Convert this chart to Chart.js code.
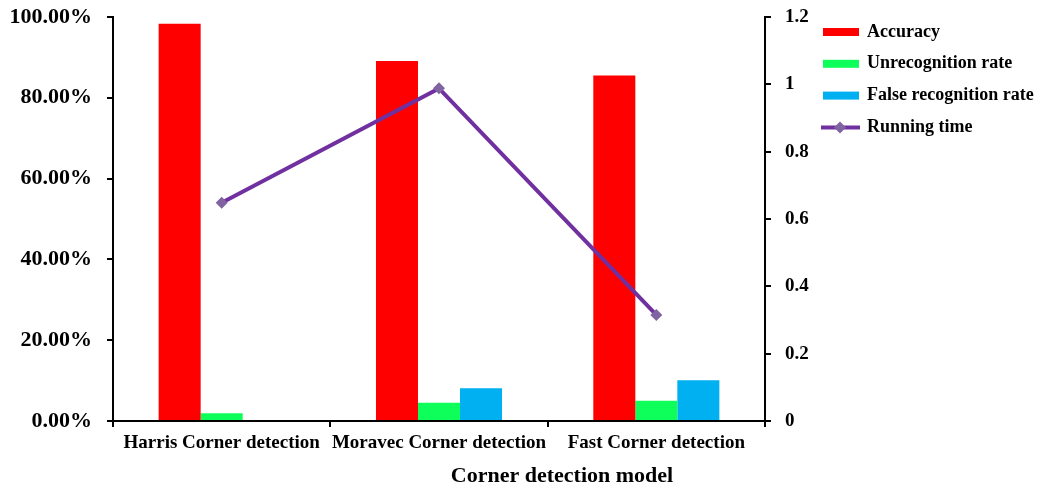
<!DOCTYPE html>
<html>
<head>
<meta charset="utf-8">
<script src="https://cdn.jsdelivr.net/npm/chart.js@4.4.0/dist/chart.umd.min.js"></script>
<style>
  html, body { margin: 0; padding: 0; background: #fff; }
  #wrap { width: 1046px; height: 488px; position: relative; }
</style>
</head>
<body>
<div id="wrap"><canvas id="chart"></canvas></div>
<script>
// data
const categories = ['Harris Corner detection', 'Moravec Corner detection', 'Fast Corner detection'];
const accuracy = [98.3, 89.1, 85.5];          // %
const unrecognitionRate = [1.9, 4.5, 5.0];    // %
const falseRecognitionRate = [0, 8.1, 10.1];  // %
const runningTime = [0.648, 0.988, 0.315];    // right axis
const leftTicks = [0, 20, 40, 60, 80, 100];
const rightTicks = [0, 0.2, 0.4, 0.6, 0.8, 1, 1.2];
const xTitle = 'Corner detection model';

const FONT = '"Liberation Serif", "Times New Roman", serif';

// legend on the right + x axis title (excel puts it off-centre)
const sideLegend = {
  id: 'sideLegend',
  afterDraw(chart) {
    const ctx = chart.ctx;
    ctx.save();
    ctx.font = 'bold 18px ' + FONT;
    ctx.textBaseline = 'middle';
    ctx.fillStyle = '#000';
    chart.data.datasets.forEach((ds, i) => {
      const y = 32 + i * 31.8;
      if (ds.type === 'line') {
        ctx.strokeStyle = ds.borderColor;
        ctx.lineWidth = 4;
        ctx.beginPath();
        ctx.moveTo(821, y);
        ctx.lineTo(860, y);
        ctx.stroke();
        ctx.fillStyle = ds.pointBackgroundColor;
        ctx.beginPath();
        ctx.moveTo(840, y - 6);
        ctx.lineTo(846, y);
        ctx.lineTo(840, y + 6);
        ctx.lineTo(834, y);
        ctx.closePath();
        ctx.fill();
      } else {
        ctx.fillStyle = ds.backgroundColor;
        ctx.fillRect(823, y - 4, 36, 8);
      }
      ctx.fillStyle = '#000';
      ctx.fillText(ds.label, 867, y);
    });

    ctx.font = 'bold 22px ' + FONT;
    ctx.textAlign = 'center';
    ctx.fillText(xTitle, 562, 476);
    ctx.restore();
  }
};

const axisLine = { color: '#000', width: 2 };
const tickGrid = { drawOnChartArea: false, drawTicks: true, tickLength: 6, color: '#000', lineWidth: 2 };

// fixed axis box so the plot area sits where it does in the picture
function fixVertical(width) {
  return scale => {
    scale.width = width;
    scale.paddingTop = 0;
    scale.paddingBottom = 0;
  };
}

new Chart(document.getElementById('chart'), {
  type: 'bar',
  data: {
    labels: categories,
    datasets: [
      { label: 'Accuracy', data: accuracy, backgroundColor: '#FF0000', yAxisID: 'y' },
      { label: 'Unrecognition rate', data: unrecognitionRate, backgroundColor: '#0FFF5A', yAxisID: 'y' },
      { label: 'False recognition rate', data: falseRecognitionRate, backgroundColor: '#00B0F0', yAxisID: 'y' },
      {
        type: 'line', label: 'Running time', data: runningTime, yAxisID: 'y1', order: -1,
        borderColor: '#7030A0', borderWidth: 4, pointStyle: 'rectRot', pointRadius: 6,
        pointBackgroundColor: '#8064A2', pointBorderColor: '#8064A2', pointBorderWidth: 0,
        tension: 0, fill: false
      }
    ]
  },
  options: {
    responsive: true,
    maintainAspectRatio: false,
    animation: false,
    layout: { padding: { top: 17, right: 0, left: 0, bottom: 0 } },
    datasets: { bar: { categoryPercentage: 0.58, barPercentage: 1 } },
    plugins: {
      legend: { display: false },
      tooltip: { enabled: false }
    },
    scales: {
      x: {
        offset: true,
        grid: { ...tickGrid, offset: true },
        border: axisLine,
        ticks: { color: '#000', font: { family: FONT, size: 19, weight: 'bold' }, padding: 5, maxRotation: 0 },
        afterFit(scale) {
          scale.height = 67;
          scale.paddingLeft = 0;
          scale.paddingRight = 0;
        }
      },
      y: {
        position: 'left',
        min: 0, max: 100,
        afterBuildTicks(scale) { scale.ticks = leftTicks.map(v => ({ value: v })); },
        grid: tickGrid,
        border: axisLine,
        ticks: { color: '#000', font: { family: FONT, size: 22, weight: 'bold' }, padding: 15, callback: v => v.toFixed(2) + '%' },
        afterFit: fixVertical(113)
      },
      y1: {
        position: 'right',
        min: 0, max: 1.2,
        afterBuildTicks(scale) { scale.ticks = rightTicks.map(v => ({ value: v })); },
        grid: tickGrid,
        border: axisLine,
        ticks: { color: '#000', font: { family: FONT, size: 19, weight: 'bold' }, padding: 14, callback: v => String(parseFloat(v.toFixed(1))) },
        afterFit: fixVertical(1046 - 765)
      }
    }
  },
  plugins: [sideLegend]
});
</script>
</body>
</html>
